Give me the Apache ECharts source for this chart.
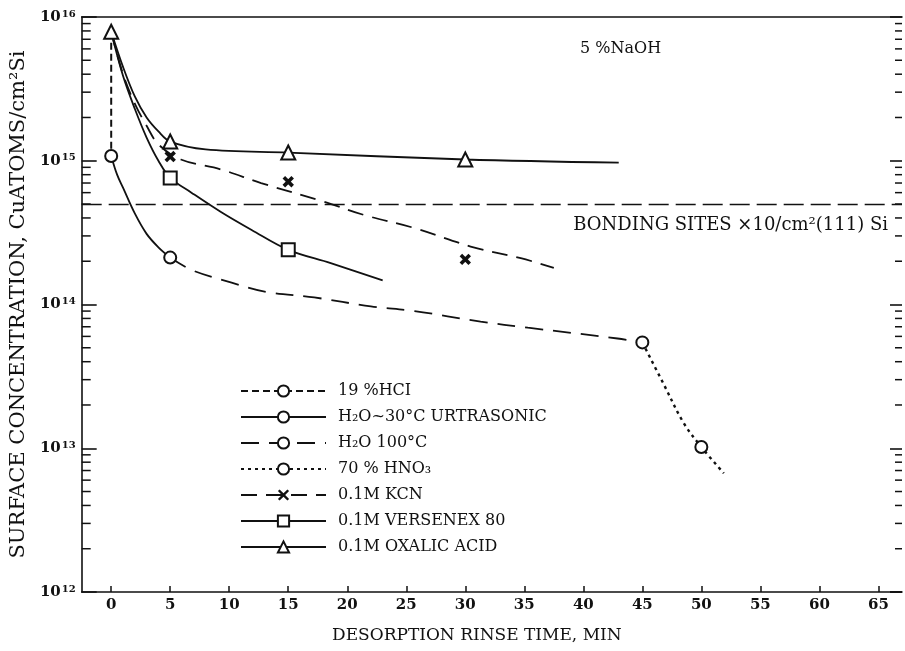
<!DOCTYPE html>
<html>
<head>
<meta charset="utf-8">
<script src="https://cdn.jsdelivr.net/npm/echarts@6/dist/echarts.min.js"></script>
<style>html,body{margin:0;padding:0;background:#fff}#c{width:905px;height:651px}</style>
</head>
<body>
<div id="c"></div>
<script>
// ---- data ----
const xTicks = [0, 5, 10, 15, 20, 25, 30, 35, 40, 45, 50, 55, 60, 65];
const decadeExponents = [12, 13, 14, 15];
const minorMultipliers = [2, 3, 4, 5, 6, 7, 8, 9];
const bondingSitesLevel = 5e14;

const seriesNames = ['19 %HCI', 'H₂O~30°C URTRASONIC', 'H₂O 100°C', '70 % HNO₃', '0.1M KCN', '0.1M VERSENEX 80', '0.1M OXALIC ACID'];

// curves (as traced)
const hclCurve = [[0, 7.9e15], [0, 1.08e15]];
const hclPoints = [[0, 1.08e15]];

const ultraCurve = [[0, 1.08e15], [0.5, 8.0e14], [1, 6.5e14], [2, 4.3e14], [3, 3.1e14], [4, 2.5e14], [5, 2.12e14]];
const ultraPoints = [[5, 2.12e14]];

const h2o100Curve = [[5, 2.12e14], [6.8, 1.74e14], [10.2, 1.42e14], [13, 1.23e14], [17.2, 1.12e14], [22, 9.7e13], [25.7, 9.0e13], [31.3, 7.6e13], [35.3, 6.9e13], [42.9, 5.8e13], [45, 5.45e13]];
const h2o100Points = [[45, 5.45e13]];

const hno3Curve = [[45, 5.45e13], [46.8, 2.8e13], [48.5, 1.5e13], [50, 1.02e13], [51.9, 6.7e12]];
const hno3Points = [[50, 1.02e13]];

const kcnCurve = [[0, 7.9e15], [1, 4.0e15], [2, 2.5e15], [3, 1.75e15], [4, 1.3e15], [5.9, 1.02e15], [9.3, 8.7e14], [12.7, 7.0e14], [18, 5.2e14], [21.4, 4.2e14], [25.7, 3.4e14], [30.7, 2.5e14], [34.7, 2.1e14], [37.5, 1.8e14]];
const kcnPoints = [[5, 1.07e15], [15, 7.15e14], [30, 2.06e14]];

const versCurve = [[0, 7.9e15], [1, 3.9e15], [2, 2.3e15], [3, 1.45e15], [4, 1.0e15], [5, 7.6e14], [6.8, 6.0e14], [9.3, 4.4e14], [11.9, 3.3e14], [15, 2.4e14], [18.6, 1.94e14], [23, 1.47e14]];
const versPoints = [[5, 7.6e14], [15, 2.4e14]];

const oxCurve = [[0, 7.9e15], [1, 4.5e15], [2, 2.8e15], [3, 2.0e15], [4, 1.6e15], [5, 1.36e15], [8, 1.2e15], [15, 1.14e15], [30, 1.02e15], [43, 0.97e15]];
const oxPoints = [[0, 7.9e15], [5, 1.36e15], [15, 1.14e15], [30, 1.02e15]];

// ---- build ----
const INK = '#111';
const FONT = 'DejaVu Serif';
const xSym = 'path://M0,1.5L1.5,0L5,3.5L8.5,0L10,1.5L6.5,5L10,8.5L8.5,10L5,6.5L1.5,10L0,8.5L3.5,5Z';

const minorTickValues = [];
decadeExponents.forEach(e => minorMultipliers.forEach(m => minorTickValues.push([0, m * Math.pow(10, e)])));

function lineSeries(name, data, dash, symbol, width, extra) {
  return Object.assign({
    name: name, type: 'line', data: data, smooth: 0.35, showSymbol: false,
    symbol: symbol, symbolSize: 10, z: 2,
    itemStyle: { color: INK, opacity: 1 },
    lineStyle: { color: INK, width: width || 1.8, type: dash }
  }, extra || {});
}
function pointSeries(name, data, symbol, size) {
  return {
    name: name, type: 'scatter', data: data, symbol: symbol, symbolSize: size, z: 4,
    itemStyle: { color: INK, borderColor: INK, borderWidth: 1.7, opacity: 1 }, silent: true
  };
}

const series = [
  lineSeries(seriesNames[0], hclCurve, [7, 4], 'emptyCircle', 2, { smooth: false }),
  lineSeries(seriesNames[1], ultraCurve, 'solid', 'emptyCircle'),
  lineSeries(seriesNames[2], h2o100Curve, [18, 10], 'emptyCircle', 1.8),
  lineSeries(seriesNames[3], hno3Curve, [3, 4], 'emptyCircle', 2.4),
  lineSeries(seriesNames[4], kcnCurve, [16, 9], xSym, 1.8),
  lineSeries(seriesNames[5], versCurve, 'solid', 'emptyRect'),
  lineSeries(seriesNames[6], oxCurve, 'solid', 'emptyTriangle', 1.8, {
    markLine: {
      silent: true, symbol: 'none',
      lineStyle: { color: INK, width: 1.4, type: [20, 7] },
      label: {
        show: true, position: 'insideEndBottom', distance: [14, 12],
        formatter: 'BONDING SITES ×10/cm²(111) Si',
        color: INK, fontFamily: FONT, fontSize: 18
      },
      data: [{ yAxis: bondingSitesLevel }]
    }
  }),
  pointSeries(seriesNames[0], hclPoints, 'emptyCircle', 12),
  pointSeries(seriesNames[1], ultraPoints, 'emptyCircle', 12),
  pointSeries(seriesNames[2], h2o100Points, 'emptyCircle', 12),
  pointSeries(seriesNames[3], hno3Points, 'emptyCircle', 12),
  pointSeries(seriesNames[4], kcnPoints, xSym, 9),
  pointSeries(seriesNames[5], versPoints, 'emptyRect', 13),
  pointSeries(seriesNames[6], oxPoints, 'emptyTriangle', 14),
  {
    name: 'minorTicks', type: 'custom', silent: true, z: 1,
    data: minorTickValues, encode: { x: 0, y: 1 },
    renderItem: function (params, api) {
      const cs = params.coordSys;
      const y = api.coord([0, api.value(1)])[1];
      return {
        type: 'group', children: [
          { type: 'line', shape: { x1: cs.x, y1: y, x2: cs.x + 9, y2: y }, style: { stroke: INK, lineWidth: 1.5 } },
          { type: 'line', shape: { x1: cs.x + cs.width, y1: y, x2: cs.x + cs.width - 7, y2: y }, style: { stroke: INK, lineWidth: 1.5 } }
        ]
      };
    }
  }
];

const chart = echarts.init(document.getElementById('c'), null, { renderer: 'canvas' });
chart.setOption({
  backgroundColor: '#fff',
  animation: false,
  grid: { left: 80, right: 3, top: 17, bottom: 59 },
  xAxis: [{
    type: 'value', min: -2.5, max: 67,
    axisLine: { show: true, onZero: false, lineStyle: { color: INK, width: 1.6 } },
    axisTick: { show: true, inside: true, length: 6, customValues: xTicks, lineStyle: { color: INK, width: 1.5 } },
    axisLabel: { customValues: xTicks, margin: 6, color: INK, fontFamily: FONT, fontWeight: 'bold', fontSize: 15 },
    splitLine: { show: false },
    name: 'DESORPTION RINSE TIME, MIN', nameLocation: 'middle', nameGap: 35,
    nameTextStyle: { color: INK, fontFamily: FONT, fontSize: 17, padding: [0, 30, 0, 0] }
  }, {
    type: 'value', position: 'top', min: -2.5, max: 67,
    axisLine: { show: true, onZero: false, lineStyle: { color: INK, width: 1.6 } },
    axisTick: { show: false }, axisLabel: { show: false }, splitLine: { show: false }
  }],
  yAxis: [{
    type: 'log', logBase: 10, min: 1e12, max: 1e16,
    axisLine: { show: true, onZero: false, lineStyle: { color: INK, width: 1.6 } },
    axisTick: { show: true, inside: true, length: 15, lineStyle: { color: INK, width: 1.6 } },
    axisLabel: {
      margin: 6, color: INK,
      formatter: function (v) { return '{b|10}{s|' + Math.round(Math.log10(v)) + '}'; },
      rich: {
        b: { fontFamily: FONT, fontWeight: 'bold', fontSize: 15, color: INK },
        s: { fontFamily: FONT, fontWeight: 'bold', fontSize: 10, color: INK, verticalAlign: 'top', padding: [0, 0, 6, 1] }
      }
    },
    splitLine: { show: false },
    name: 'SURFACE CONCENTRATION, CuATOMS/cm²Si', nameLocation: 'middle', nameGap: 52,
    nameTextStyle: { color: INK, fontFamily: FONT, fontSize: 21 }
  }, {
    type: 'log', logBase: 10, min: 1e12, max: 1e16, position: 'right',
    axisLine: { show: false, onZero: false },
    axisTick: { show: true, inside: true, length: 12, lineStyle: { color: INK, width: 1.6 } },
    axisLabel: { show: false }, splitLine: { show: false }
  }],
  legend: {
    data: seriesNames, orient: 'vertical', left: 240, top: 383, padding: 0,
    itemWidth: 85, itemHeight: 14, itemGap: 10, selectedMode: false,
    textStyle: { color: INK, fontFamily: FONT, fontSize: 16, lineHeight: 16, padding: [0, 0, 0, 7] }
  },
  graphic: [{
    type: 'text', left: 580, top: 41,
    style: { text: '5 %NaOH', fill: INK, font: '16px "DejaVu Serif"' }
  }],
  series: series
});
</script>
</body>
</html>
